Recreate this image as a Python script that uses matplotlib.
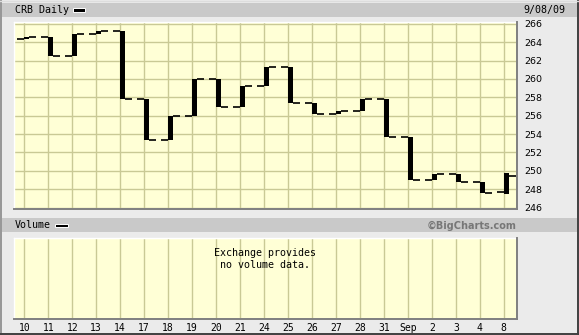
import matplotlib
matplotlib.use("Agg")
import matplotlib.pyplot as plt
from matplotlib.patches import Rectangle
from matplotlib.lines import Line2D
import numpy as np

# ---- data ----
day_labels = ['10', '11', '12', '13', '14', '17', '18', '19', '20', '21', '24',
              '25', '26', '27', '28', '31', 'Sep', '2', '3', '4', '8']
opens = [264.30, 264.58, 262.48, 264.87, 265.20, 257.80, 253.38, 255.96, 259.98, 256.93, 259.22,
         261.28, 257.37, 256.14, 256.54, 257.80, 253.67, 249.00, 249.65, 248.78, 247.70]
highs = [264.58, 264.58, 264.87, 265.20, 265.20, 257.80, 255.96, 259.98, 259.98, 259.22, 261.28,
         261.28, 257.37, 256.54, 257.80, 257.80, 253.67, 249.65, 249.65, 248.78, 249.76]
lows = [264.30, 262.48, 262.48, 264.87, 257.80, 253.38, 253.38, 255.96, 256.93, 256.93, 259.22,
        257.37, 256.14, 256.14, 256.54, 253.67, 249.00, 249.00, 248.78, 247.59, 247.48]
closes = [264.58, 262.48, 264.87, 265.20, 257.80, 253.38, 255.96, 259.98, 256.93, 259.22, 261.28,
          257.37, 256.14, 256.54, 257.80, 253.67, 249.00, 249.65, 248.78, 247.59, 249.40]
price_ticks = list(range(246, 267, 2))

W, H = 579, 335
BG = '#EBEBEB'
HEADER = '#C9C9C9'
PLOTBG = '#FFFFD6'
GRID = '#C9C995'
MONO = 'DejaVu Sans Mono'

fig = plt.figure(figsize=(W / 100, H / 100), dpi=100, facecolor=BG)


def fx(px):
    return px / W


def fy(py):
    return 1 - py / H


def rect(x0, y0, x1, y1, **kw):
    fig.add_artist(Rectangle((fx(x0), fy(y1)), fx(x1) - fx(x0), fy(y0) - fy(y1),
                             transform=fig.transFigure, **kw))


def line(xs, ys, **kw):
    fig.add_artist(Line2D([fx(v) for v in xs], [fy(v) for v in ys],
                          transform=fig.transFigure, **kw))


# header bars
rect(2, 3, 577, 17, facecolor=HEADER, edgecolor='none')
rect(2, 218, 577, 232, facecolor=HEADER, edgecolor='none')

# outer frame
line([0.5, 0.5], [0, 335], color='#888888', lw=1.2)
line([578, 578], [0, 335], color='#404040', lw=1.4)
line([0, 579], [334, 334], color='#404040', lw=1.4)
line([0, 579], [0.5, 0.5], color='#DDDDDD', lw=1.0)

# header texts
fig.text(fx(15), fy(10), 'CRB Daily', family=MONO, fontsize=7.2, va='center', ha='left', color='black')
rect(72.5, 7.8, 84.5, 11.6, facecolor='black', edgecolor='white', lw=0.7)
fig.text(fx(565), fy(9.5), '9/08/09', family=MONO, fontsize=7.2, va='center', ha='right', color='black')

fig.text(fx(15), fy(225.5), 'Volume', family=MONO, fontsize=7.2, va='center', ha='left', color='black')
rect(55.3, 223.7, 67.7, 227.2, facecolor='black', edgecolor='white', lw=0.7)
fig.text(fx(516), fy(225.5), '\u00a9BigCharts.com', family='DejaVu Sans', fontweight='bold',
         fontsize=7.0, va='center', ha='right', color='#777777')

# ---- main price panel ----
L, R = 14, 516
ax = fig.add_axes([fx(L), fy(208), fx(R) - fx(L), fy(22) - fy(208)])
ax.set_facecolor(PLOTBG)
x = np.arange(len(day_labels))
ax.set_xlim(-0.43, 20.51)
ax.set_ylim(245.95, 266.2)
ax.set_xticks(x)
ax.set_yticks(price_ticks)
ax.set_yticklabels([str(t) for t in price_ticks])
ax.grid(True, color=GRID, lw=1.0)
ax.set_axisbelow(True)
ax.yaxis.tick_right()
ax.tick_params(axis='y', length=0, pad=6, labelsize=6.8, labelcolor='black')
ax.tick_params(axis='x', length=0, labelbottom=False)
for s in ax.spines.values():
    s.set_visible(False)

hl = np.array(highs) - np.array(lows)
ax.bar(x, hl, bottom=lows, width=0.2, align='edge', color='black', zorder=3)
ax.hlines(opens, x - 0.3, x, color='black', lw=1.2, zorder=3)
ax.hlines(closes, x + 0.2, x + 0.5, color='black', lw=1.2, zorder=3)

# 3D edges main panel
line([L, R], [21.5, 21.5], color='white', lw=1.0)
line([L - 0.5, L - 0.5], [21.5, 208], color='white', lw=1.0)
line([L, R + 1], [208.8, 208.8], color='#808080', lw=1.4)
line([R + 0.7, R + 0.7], [22, 209], color='#808080', lw=1.4)

# ---- volume panel ----
axv = fig.add_axes([fx(L), fy(318), fx(R) - fx(L), fy(238) - fy(318)])
axv.set_facecolor(PLOTBG)
axv.set_xlim(-0.43, 20.51)
axv.set_ylim(0, 1)
axv.set_xticks(x)
axv.set_xticklabels(day_labels)
axv.set_yticks([])
axv.grid(True, axis='x', color=GRID, lw=1.0)
axv.tick_params(axis='x', length=0, pad=3.5)
for lab in axv.get_xticklabels():
    lab.set_family(MONO)
    lab.set_fontsize(7.0)
for s in axv.spines.values():
    s.set_visible(False)
axv.text(0.5, 0.74, 'Exchange provides\nno volume data.', transform=axv.transAxes,
         ha='center', va='center', family=MONO, fontsize=7.2, linespacing=1.25, color='black')

line([L, R], [237.7, 237.7], color='white', lw=1.0)
line([L - 0.5, L - 0.5], [237.7, 318], color='white', lw=1.0)
line([L, R + 1], [318.5, 318.5], color='#808080', lw=1.4)
line([R + 0.7, R + 0.7], [238, 319], color='#808080', lw=1.4)

fig.savefig('out.png', dpi=100, facecolor=BG)
